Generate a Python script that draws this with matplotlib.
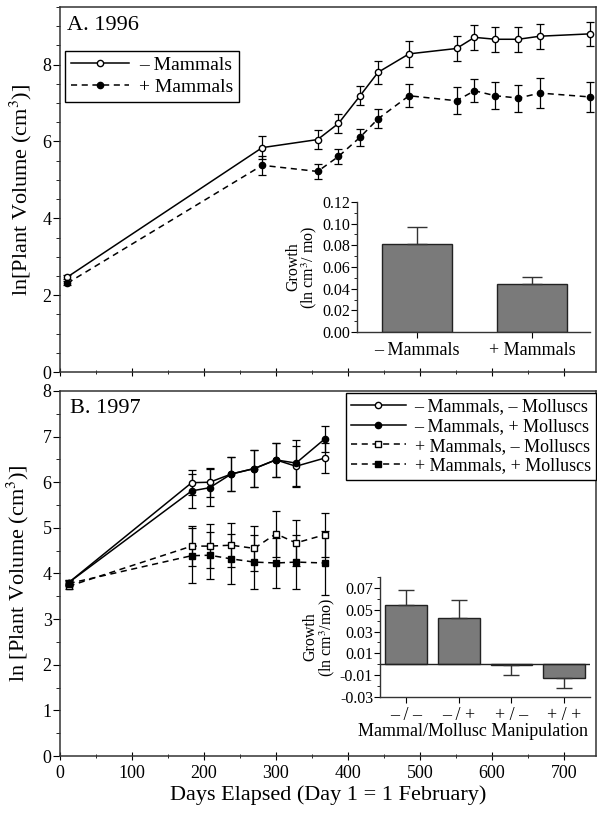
import matplotlib
matplotlib.use("Agg")
import matplotlib.pyplot as plt
from matplotlib.lines import Line2D
from matplotlib.ticker import MultipleLocator

plt.rcParams['font.family'] = ['Liberation Serif', 'DejaVu Serif']
plt.rcParams['mathtext.fontset'] = 'stix'

# 1996 data
days_96 = [10, 281, 358, 387, 417, 442, 485, 551, 576, 605, 637, 667, 736]
minus_mam_96 = [2.47, 5.84, 6.05, 6.47, 7.19, 7.80, 8.28, 8.42, 8.71, 8.66, 8.66, 8.74, 8.80]
minus_mam_96_err = [0.05, 0.30, 0.25, 0.25, 0.25, 0.30, 0.33, 0.33, 0.33, 0.33, 0.33, 0.33, 0.32]
plus_mam_96 = [2.31, 5.38, 5.22, 5.61, 6.11, 6.59, 7.19, 7.06, 7.32, 7.19, 7.13, 7.26, 7.16]
plus_mam_96_err = [0.05, 0.25, 0.20, 0.20, 0.22, 0.25, 0.30, 0.35, 0.30, 0.35, 0.35, 0.40, 0.39]

growth_96_labels = ['\u2013 Mammals', '+ Mammals']
growth_96 = [0.081, 0.044]
growth_96_err = [0.016, 0.007]

# 1997 data
days_97 = [12, 183, 208, 238, 270, 300, 328, 368]
mm_97 = [3.80, 5.99, 6.00, 6.18, 6.30, 6.49, 6.35, 6.53]
mm_97_err = [0.05, 0.28, 0.32, 0.38, 0.40, 0.37, 0.45, 0.33]
mp_97 = [3.80, 5.81, 5.88, 6.18, 6.30, 6.49, 6.42, 6.95]
mp_97_err = [0.05, 0.38, 0.40, 0.38, 0.40, 0.37, 0.50, 0.29]
pm_97 = [3.72, 4.60, 4.60, 4.62, 4.55, 4.87, 4.67, 4.85]
pm_97_err = [0.05, 0.44, 0.48, 0.48, 0.50, 0.50, 0.50, 0.48]
pp_97 = [3.78, 4.39, 4.40, 4.32, 4.25, 4.23, 4.25, 4.23]
pp_97_err = [0.05, 0.60, 0.52, 0.55, 0.60, 0.55, 0.60, 0.70]

growth_97_labels = ['\u2013 / \u2013', '\u2013 / +', '+ / \u2013', '+ / +']
growth_97 = [0.054, 0.042, -0.001, -0.013]
growth_97_err = [0.014, 0.017, -0.009, -0.009]

fig = plt.figure(figsize=(5.97, 8.13), dpi=100)
ax1 = fig.add_axes([0.1005, 0.5424, 0.898, 0.449])
ax2 = fig.add_axes([0.1005, 0.0701, 0.898, 0.449])

err_kw = dict(color='black', lw=1.1, elinewidth=0.9, capsize=3, capthick=0.9, markersize=4.5)


def style_main(ax):
    ax.set_xlim(0, 745)
    ax.xaxis.set_major_locator(MultipleLocator(100))
    ax.xaxis.set_minor_locator(MultipleLocator(50))
    ax.yaxis.set_minor_locator(MultipleLocator(0.5))
    ax.tick_params(axis='y', direction='out', length=5, labelsize=13, pad=1)
    ax.tick_params(axis='y', which='minor', direction='out', length=3)
    ax.tick_params(axis='x', direction='inout', length=6, labelsize=13)
    ax.tick_params(axis='x', which='minor', direction='inout', length=3)
    ax.tick_params(top=False, right=False)
    for s in ax.spines.values():
        s.set_linewidth(1.1)
        s.set_color('#333333')


def handle(ls, marker, fill):
    return Line2D([], [], color='black', lw=1.1, ls=ls, marker=marker,
                  markersize=4.5, mfc=fill, mec='black')


def add_legend(ax, handles, labels, **kw):
    leg = ax.legend(handles, labels, borderaxespad=0, handlelength=3, fancybox=False,
                    edgecolor='black', framealpha=1, borderpad=0.3,
                    handletextpad=0.5, **kw)
    leg.get_frame().set_linewidth(1.0)
    return leg


# panel A
ax1.errorbar(days_96, minus_mam_96, yerr=minus_mam_96_err, fmt='-o', mfc='white',
             mec='black', **err_kw)
ax1.errorbar(days_96, plus_mam_96, yerr=plus_mam_96_err, fmt='--o', mfc='black',
             mec='black', dashes=(4, 3), **err_kw)
ax1.set_ylim(0, 9.5)
ax1.set_yticks([0, 2, 4, 6, 8])
style_main(ax1)
ax1.set_xticklabels([])
ax1.set_ylabel('ln[Plant Volume (cm$^3$)]', fontsize=16, labelpad=6)
ax1.text(0.013, 0.95, 'A. 1996', transform=ax1.transAxes, fontsize=16, va='center')
add_legend(ax1, [handle('-', 'o', 'white'), handle((0, (4, 3)), 'o', 'black')],
           ['\u2013 Mammals', '+ Mammals'], loc='upper left',
           bbox_to_anchor=(0.009, 0.88), fontsize=14, labelspacing=0.2)

# panel B
labels_97 = ['\u2013 Mammals, \u2013 Molluscs', '\u2013 Mammals, + Molluscs',
             '+ Mammals, \u2013 Molluscs', '+ Mammals, + Molluscs']
ax2.errorbar(days_97, mm_97, yerr=mm_97_err, fmt='-o', mfc='white', mec='black', **err_kw)
ax2.errorbar(days_97, mp_97, yerr=mp_97_err, fmt='-o', mfc='black', mec='black', **err_kw)
ax2.errorbar(days_97, pm_97, yerr=pm_97_err, fmt='--s', mfc='white', mec='black',
             dashes=(4, 3), **err_kw)
ax2.errorbar(days_97, pp_97, yerr=pp_97_err, fmt='--s', mfc='black', mec='black',
             dashes=(4, 3), **err_kw)
ax2.set_ylim(0, 8)
ax2.set_yticks(range(0, 9))
style_main(ax2)
ax2.set_xlabel('Days Elapsed (Day 1 = 1 February)', fontsize=16, labelpad=2)
ax2.set_ylabel('ln [Plant Volume (cm$^3$)]', fontsize=16, labelpad=8)
ax2.text(0.019, 0.953, 'B. 1997', transform=ax2.transAxes, fontsize=16, va='center')
add_legend(ax2, [handle('-', 'o', 'white'), handle('-', 'o', 'black'),
                 handle((0, (4, 3)), 's', 'white'), handle((0, (4, 3)), 's', 'black')],
           labels_97, loc='upper right', bbox_to_anchor=(1.0, 0.995), fontsize=13,
           labelspacing=0.15)

bar_kw = dict(color='#7a7a7a', edgecolor='#222222', linewidth=1.0)
ebar_kw = dict(fmt='none', ecolor='#333333', elinewidth=1.0, capsize=7, capthick=1.0)


def style_inset(ax):
    ax.spines['top'].set_visible(False)
    ax.spines['right'].set_visible(False)
    for s in ax.spines.values():
        s.set_linewidth(1.0)
        s.set_color('#333333')
    ax.patch.set_alpha(0)
    ax.tick_params(axis='y', direction='out', length=4, labelsize=11.5, pad=1)
    ax.tick_params(axis='y', which='minor', direction='out', length=2)
    ax.tick_params(axis='x', direction='out', length=4, labelsize=13)


# inset A
ax3 = fig.add_axes([0.598, 0.5916, 0.390, 0.160])
xa = range(len(growth_96))
ax3.bar(xa, growth_96, width=0.61, **bar_kw)
ax3.errorbar(xa, growth_96, yerr=[[0, 0], growth_96_err], **ebar_kw)
ax3.set_xlim(-0.52, 1.5)
ax3.set_ylim(0, 0.12)
ticks_a = [0.0, 0.02, 0.04, 0.06, 0.08, 0.10, 0.12]
ax3.set_yticks(ticks_a)
ax3.set_yticklabels(['%.2f' % v for v in ticks_a])
ax3.yaxis.set_minor_locator(MultipleLocator(0.01))
ax3.set_xticks(list(xa))
ax3.set_xticklabels(growth_96_labels)
style_inset(ax3)
ax3.set_ylabel('Growth\n(ln cm$^3$/ mo)', fontsize=11.5, labelpad=2, linespacing=0.9)

# inset B
ax4 = fig.add_axes([0.6365, 0.1427, 0.352, 0.1476])
xb = range(len(growth_97))
ax4.bar(xb, growth_97, width=0.79, **bar_kw)
lo = [-e if e < 0 else 0 for e in growth_97_err]
hi = [e if e > 0 else 0 for e in growth_97_err]
ax4.errorbar(xb, growth_97, yerr=[lo, hi], **dict(ebar_kw, capsize=6))
ax4.axhline(0, color='#222222', lw=1.0)
ax4.set_xlim(-0.49, 3.49)
ax4.set_ylim(-0.03, 0.08)
ticks_b = [-0.03, -0.01, 0.01, 0.03, 0.05, 0.07]
ax4.set_yticks(ticks_b)
ax4.set_yticklabels(['%.2f' % v for v in ticks_b])
ax4.yaxis.set_minor_locator(MultipleLocator(0.01))
ax4.set_xticks(list(xb))
ax4.set_xticklabels(growth_97_labels)
style_inset(ax4)
ax4.set_ylabel('Growth\n(ln cm$^3$/mo)', fontsize=11.5, labelpad=2, linespacing=0.9)
ax4.set_xlabel('Mammal/Mollusc Manipulation', fontsize=13, labelpad=2, ha='right')
ax4.xaxis.set_label_coords(0.99, -0.22)

fig.savefig('out.png', dpi=100)
